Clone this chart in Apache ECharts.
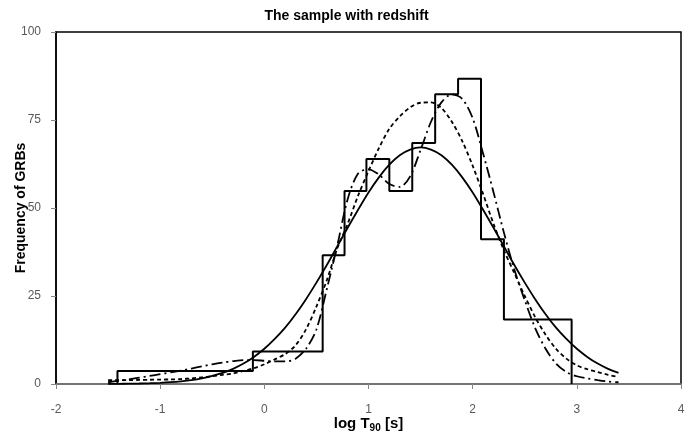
<!DOCTYPE html>
<html>
<head>
<meta charset="utf-8">
<script src="https://cdn.jsdelivr.net/npm/echarts@6/dist/echarts.min.js"></script>
<style>html,body{margin:0;padding:0;background:#fff}#c{width:693px;height:439px}</style>
</head>
<body>
<div id="c"></div>
<script>
// Histogram bin edges (log T90) and counts
var binEdges = [-1.41, -0.11, 0.56, 0.77, 0.98, 1.20, 1.42, 1.64, 1.86, 2.08, 2.30, 2.95];
var binCounts = [3.7, 9.2, 36.6, 54.8, 63.9, 54.8, 68.5, 82.3, 86.7, 41.1, 18.3];

// Curve sample positions (log T90)
var curveX = [-1.5,-1.4,-1.3,-1.2,-1.1,-1.0,-0.9,-0.8,-0.7,-0.6,-0.5,-0.4,-0.3,-0.2,-0.1,0.0,
  0.1,0.2,0.3,0.4,0.5,0.6,0.7,0.8,0.9,1.0,1.1,1.2,1.3,1.4,1.5,1.6,1.7,1.8,1.9,2.0,
  2.1,2.2,2.3,2.4,2.5,2.6,2.7,2.8,2.9,3.0,3.1,3.2,3.3,3.4];

// Solid curve values
var solidCurve = [0.03,0.05,0.09,0.14,0.22,0.34,0.51,0.76,1.1,1.6,2.3,3.15,4.3,5.8,7.7,10.0,
  12.8,16.0,19.8,24.1,28.8,33.8,39.1,44.4,49.5,54.4,58.7,62.3,65.0,66.6,67.2,66.6,65.0,62.3,58.7,54.4,
  49.5,44.4,39.1,33.8,28.8,24.1,19.8,16.0,12.8,10.0,7.7,5.8,4.3,3.15];

// Short-dashed curve values
var dashedCurve = [1.1,1.1,1.1,1.15,1.2,1.25,1.3,1.4,1.6,1.9,2.2,2.6,3.0,3.7,4.5,5.6,
  7.0,8.5,11.0,15.5,22.0,29.5,38.5,45.5,53.5,60.5,67.0,72.5,76.0,78.6,79.9,80.0,78.4,74.5,69.0,62.0,
  54.0,45.5,38.0,31.5,25.0,19.0,14.0,10.0,7.2,5.3,4.2,3.4,2.6,2.0];

// Dash-dot curve values
var dashDotCurve = [0.5,0.9,1.3,1.8,2.3,2.8,3.3,3.8,4.4,5.0,5.6,6.1,6.5,6.8,6.8,6.6,
  6.4,6.4,7.2,10.0,15.5,27.0,39.3,52.5,59.8,61.0,59.5,56.8,56.0,59.0,66.5,74.5,80.0,82.3,81.0,75.5,
  65.5,54.5,43.0,32.5,23.8,15.9,10.0,5.8,3.4,2.2,1.6,1.1,0.7,0.5];

var xTicks = [-2, -1, 0, 1, 2, 3, 4];
var yTicks = [0, 25, 50, 75, 100];

function pairs(xs, ys) { return xs.map(function (x, i) { return [x, ys[i]]; }); }

var histData = [[binEdges[0], 0]];
for (var i = 0; i < binCounts.length; i++) histData.push([binEdges[i], binCounts[i]]);
histData.push([binEdges[binEdges.length - 1], 0]);

var labelFont = 'Liberation Sans';
var chart = echarts.init(document.getElementById('c'), null, {renderer: 'canvas'});
chart.setOption({
  animation: false,
  backgroundColor: '#fff',
  title: {
    text: 'The sample with redshift',
    left: 'center', top: 4,
    textStyle: {fontFamily: labelFont, fontWeight: 'bold', fontSize: 14, color: '#000'}
  },
  grid: {left: 56, right: 12, top: 32, bottom: 55, containLabel: false, outerBoundsMode: 'none',
    show: true, borderColor: '#000', borderWidth: 1.5, backgroundColor: 'transparent'},
  xAxis: {
    type: 'value', min: xTicks[0], max: xTicks[xTicks.length - 1], interval: 1,
    name: 'log T{sub|90} [s]', nameLocation: 'middle', nameGap: 31, nameMoveOverlap: false,
    nameTextStyle: {fontFamily: labelFont, fontWeight: 'bold', fontSize: 15, color: '#000',
      rich: {sub: {fontFamily: labelFont, fontWeight: 'bold', fontSize: 10, color: '#000', verticalAlign: 'bottom', padding: [8, 0, 0, 0]}}},
    axisLine: {show: true, onZero: false, lineStyle: {color: '#868686', width: 1.5}},
    axisTick: {show: true, inside: false, length: 5, lineStyle: {color: '#868686'}},
    axisLabel: {fontFamily: labelFont, fontSize: 12, color: '#595959', margin: 20},
    splitLine: {show: false}
  },
  yAxis: {
    type: 'value', min: yTicks[0], max: yTicks[yTicks.length - 1], interval: 25,
    name: 'Frequency of GRBs', nameLocation: 'middle', nameGap: 28, nameRotate: 90, nameMoveOverlap: false,
    nameTextStyle: {fontFamily: labelFont, fontWeight: 'bold', fontSize: 14, color: '#000'},
    axisLine: {show: true, onZero: false, lineStyle: {color: '#000', width: 1.5}},
    axisTick: {show: true, inside: false, length: 5, lineStyle: {color: '#868686'}},
    axisLabel: {fontFamily: labelFont, fontSize: 12, color: '#595959', margin: 15},
    splitLine: {show: false}
  },
  series: [
    {type: 'line', name: 'histogram', step: 'end', data: histData, symbol: 'none',
      lineStyle: {color: '#000', width: 2}, z: 5},
    {type: 'line', name: 'solid', data: pairs(curveX, solidCurve), symbol: 'none', smooth: 0.3,
      lineStyle: {color: '#000', width: 1.8, type: 'solid'}},
    {type: 'line', name: 'dashed', data: pairs(curveX, dashedCurve), symbol: 'none', smooth: 0.3,
      lineStyle: {color: '#000', width: 1.8, type: [4, 3]}},
    {type: 'line', name: 'dashdot', data: pairs(curveX, dashDotCurve), symbol: 'none', smooth: 0.3,
      lineStyle: {color: '#000', width: 1.8, type: [11, 4, 2, 4]}}
  ]
});
</script>
</body>
</html>
